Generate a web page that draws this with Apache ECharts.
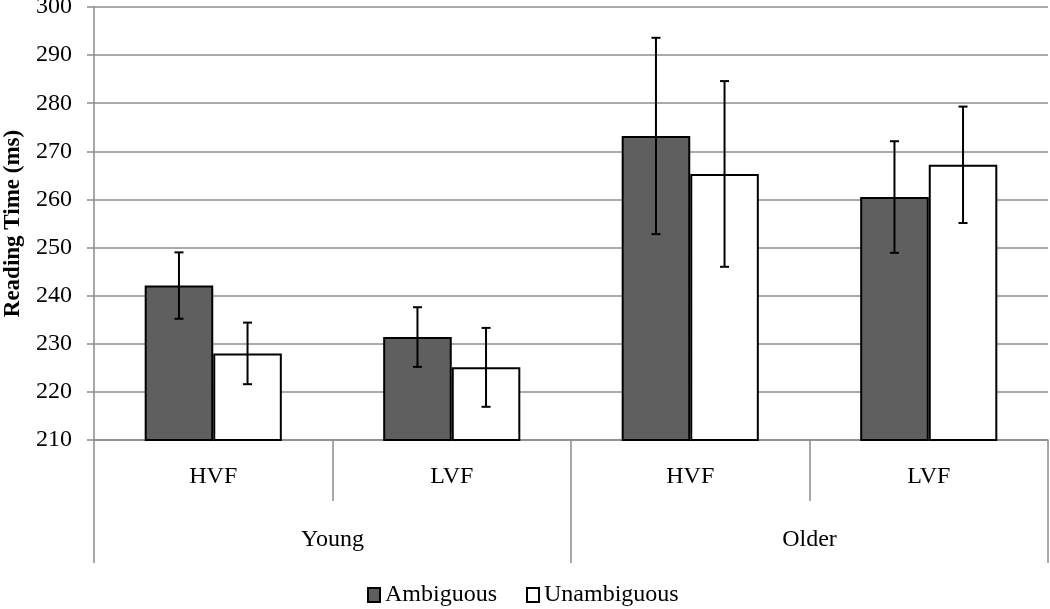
<!DOCTYPE html>
<html><head><meta charset="utf-8">
<script src="https://cdn.jsdelivr.net/npm/echarts@6/dist/echarts.min.js"></script>
<style>html,body{margin:0;padding:0;background:#fff}#c{width:1050px;height:609px}</style>
</head><body><div id="c"></div>
<script>
const categories = ['HVF', 'LVF', 'HVF', 'LVF'];
const groups = ['Young', 'Older'];
const seriesNames = ['Ambiguous', 'Unambiguous'];
const ambiguous = [242.1, 231.4, 273.2, 260.5];
const unambiguous = [228.0, 225.1, 265.3, 267.2];
const ambiguousErr = [6.9, 6.2, 20.4, 11.6];
const unambiguousErr = [6.4, 8.2, 19.3, 12.1];
const yTicks = {min: 210, max: 300, interval: 10};

const FONT = '"Liberation Serif", "Times New Roman", serif';
const FS = 24;
const GAP = 0.425;

function errSeries(vals, errs, idx) {
  return {
    type: 'custom',
    name: seriesNames[idx] + ' error',
    z: 10,
    silent: true,
    data: vals.map((v, i) => [i, v, errs[i]]),
    renderItem: function (params, api) {
      const i = api.value(0), v = api.value(1), e = api.value(2);
      const band = api.size([1, 0])[0];
      const barW = band * (1 - GAP) / 2;
      const cx = api.coord([i, v])[0] + (idx === 0 ? -barW / 2 : barW / 2);
      const yHi = api.coord([i, v + e])[1];
      const yLo = api.coord([i, v - e])[1];
      const cap = 4.5;
      const st = {stroke: '#000', lineWidth: 2};
      return {type: 'group', children: [
        {type: 'line', shape: {x1: cx, y1: yHi, x2: cx, y2: yLo}, style: st},
        {type: 'line', shape: {x1: cx - cap, y1: yHi, x2: cx + cap, y2: yHi}, style: st},
        {type: 'line', shape: {x1: cx - cap, y1: yLo, x2: cx + cap, y2: yLo}, style: st}
      ]};
    }
  };
}

const chart = echarts.init(document.getElementById('c'));
chart.setOption({
  animation: false,
  backgroundColor: '#fff',
  textStyle: {fontFamily: FONT, color: '#000'},
  grid: {left: 94, right: 2, top: 7, bottom: 169, containLabel: false, outerBoundsMode: 'none'},
  legend: {
    data: seriesNames,
    top: 583,
    left: 367,
    padding: 0,
    itemWidth: 12, itemHeight: 14,
    itemGap: 29,
    icon: 'rect',
    textStyle: {fontFamily: FONT, fontSize: FS, color: '#000'}
  },
  xAxis: [
    {
      type: 'category', data: categories, position: 'bottom',
      axisLine: {show: true, lineStyle: {color: '#8c8c8c', width: 1.5}},
      axisTick: {show: true, length: 61, lineStyle: {color: '#8c8c8c', width: 1.5}},
      axisLabel: {fontFamily: FONT, fontSize: FS, color: '#000', margin: 25},
      splitLine: {show: false}
    },
    {
      type: 'category', data: groups, position: 'bottom',
      axisLine: {show: false},
      axisTick: {show: true, length: 123, lineStyle: {color: '#8c8c8c', width: 1.5}},
      axisLabel: {fontFamily: FONT, fontSize: FS, color: '#000', margin: 88},
      splitLine: {show: false}
    }
  ],
  yAxis: {
    type: 'value', min: yTicks.min, max: yTicks.max, interval: yTicks.interval,
    name: 'Reading Time (ms)', nameLocation: 'middle', nameGap: 69,
    nameTextStyle: {fontFamily: FONT, fontSize: 23, fontWeight: 'bold', color: '#000'},
    axisLine: {show: true, lineStyle: {color: '#8c8c8c', width: 1.5}},
    axisTick: {show: true, length: 7, lineStyle: {color: '#8c8c8c', width: 1.5}},
    axisLabel: {fontFamily: FONT, fontSize: FS, color: '#000', margin: 22},
    splitLine: {show: true, lineStyle: {color: '#8e8e8e', width: 1.5}}
  },
  series: [
    {
      name: seriesNames[0], type: 'bar', data: ambiguous,
      barGap: '0%', barCategoryGap: (GAP * 100) + '%',
      itemStyle: {color: '#5f5f5f', borderColor: '#000', borderWidth: 2}
    },
    {
      name: seriesNames[1], type: 'bar', data: unambiguous,
      barGap: '0%', barCategoryGap: (GAP * 100) + '%',
      itemStyle: {color: '#ffffff', borderColor: '#000', borderWidth: 2}
    },
    errSeries(ambiguous, ambiguousErr, 0),
    errSeries(unambiguous, unambiguousErr, 1)
  ]
});
</script></body></html>
